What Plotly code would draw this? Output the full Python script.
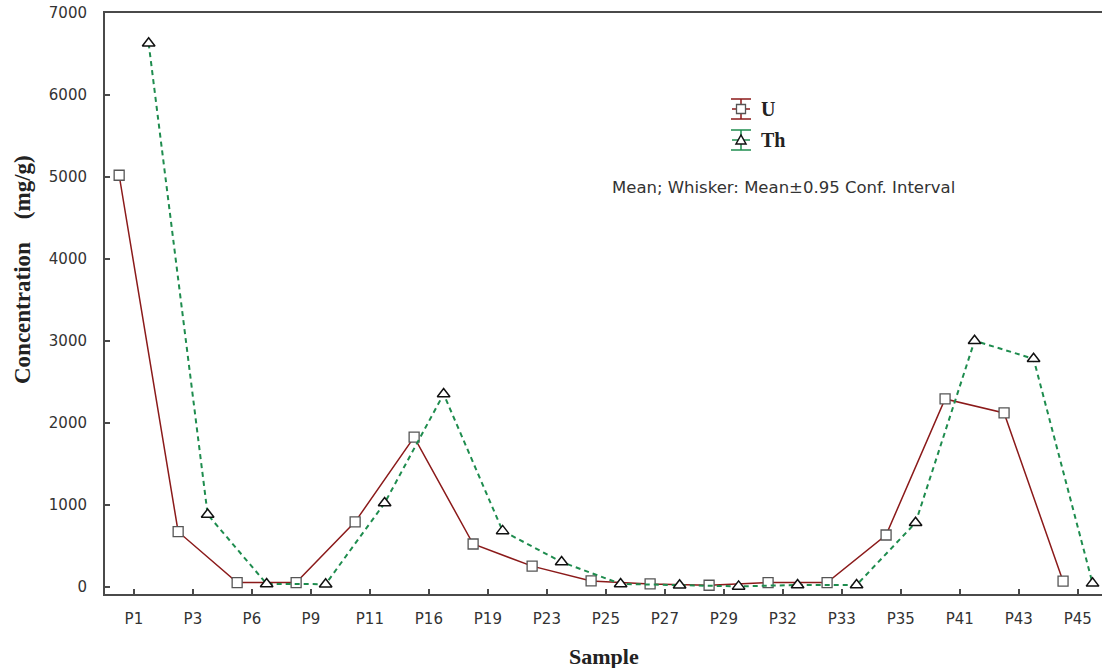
import plotly.graph_objects as go

samples = ["P1", "P3", "P6", "P9", "P11", "P16", "P19", "P23", "P25",
           "P27", "P29", "P32", "P33", "P35", "P41", "P43", "P45"]
u_mean = [5020, 670, 50, 50, 790, 1825, 520, 250, 70,
          33, 17, 50, 50, 630, 2290, 2120, 66]
th_mean = [6630, 880, 33, 30, 1020, 2350, 680, 300, 33,
           17, 3, 20, 20, 780, 3000, 2780, 40]

pos = list(range(len(samples)))
u_x = [p - 0.25 for p in pos]
th_x = [p + 0.25 for p in pos]

U_COL = "#8b1a1a"
TH_COL = "#1e8c4e"
AXIS_COL = "#4a4a4a"

fig = go.Figure()

fig.add_trace(go.Scatter(
    x=u_x, y=u_mean, mode="lines+markers", name="U",
    line=dict(color=U_COL, width=1.5),
    marker=dict(symbol="square", size=10, color="white",
                line=dict(color="#555555", width=1.3)),
))
fig.add_trace(go.Scatter(
    x=th_x, y=th_mean, mode="lines+markers", name="Th",
    line=dict(color=TH_COL, width=2, dash="5px,4px"),
    marker=dict(symbol="triangle-up", size=11, color="white",
                line=dict(color="#111111", width=1.5)),
))

# plot box sits at x 105..1102, y 13..594 in page pixels
def px_x(px):
    return (px - 105) / 997

def px_y(py):
    return (594 - py) / 581

# legend drawn by hand (icon = whisker box like the original)
def legend_icon(py, color, kind):
    common = dict(xref="paper", yref="paper", xsizemode="pixel", ysizemode="pixel",
                  xanchor=px_x(741), yanchor=px_y(py), layer="above")
    fig.add_shape(type="line", x0=-10, x1=10, y0=10, y1=10,
                  line=dict(color=color, width=1.5), **common)
    fig.add_shape(type="line", x0=-10, x1=10, y0=-10, y1=-10,
                  line=dict(color=color, width=1.5), **common)
    fig.add_shape(type="line", x0=0, x1=0, y0=-10, y1=10,
                  line=dict(color=color, width=1.5), **common)
    fig.add_shape(type="line", x0=-9, x1=9, y0=0, y1=0,
                  line=dict(color=color, width=1.5), **common)
    if kind == "square":
        fig.add_shape(type="rect", x0=-4.5, x1=4.5, y0=-4.5, y1=4.5,
                      fillcolor="white", line=dict(color="#555555", width=1.3), **common)
    else:
        fig.add_shape(type="path", path="M -5,-4 L 5,-4 L 0,5 Z",
                      fillcolor="white", line=dict(color="#111111", width=1.5), **common)

legend_icon(109, U_COL, "square")
legend_icon(140, TH_COL, "triangle")

serif_bold = dict(family="Liberation Serif", color="#222222", weight="bold")

def label(px, py, text, font, xanchor="center", angle=0):
    fig.add_annotation(x=px_x(px), y=px_y(py), xref="paper", yref="paper",
                       text=text, showarrow=False, xanchor=xanchor, yanchor="middle",
                       textangle=angle, font=font)

label(759, 109, "U", dict(size=20, **serif_bold), xanchor="left")
label(759, 140, "Th", dict(size=20, **serif_bold), xanchor="left")
label(783, 187, "Mean; Whisker: Mean±0.95 Conf. Interval",
      dict(family="DejaVu Sans", size=16.5, color="#333333"))
label(22, 270, "Concentration    (mg/g)", dict(size=23, **serif_bold), angle=-90)
label(604, 656, "Sample", dict(size=22, **serif_bold))

fig.update_layout(
    width=1102, height=668,
    margin=dict(l=105, r=0, t=13, b=74, autoexpand=False),
    plot_bgcolor="white", paper_bgcolor="white",
    showlegend=False,
    font=dict(family="DejaVu Sans", size=15, color="#333333"),
)
fig.update_xaxes(
    range=[-0.49, 16.41], tickvals=pos, ticktext=samples,
    showgrid=False, zeroline=False,
    showline=True, linecolor=AXIS_COL, linewidth=2, mirror=True,
    ticks="inside", ticklen=5, tickcolor=AXIS_COL, tickwidth=1.5,
    ticklabelstandoff=10, ticklabeloverflow="allow",
)
fig.update_yaxes(
    range=[-90, 7000], tickvals=[0, 1000, 2000, 3000, 4000, 5000, 6000, 7000],
    showgrid=False, zeroline=False,
    showline=True, linecolor=AXIS_COL, linewidth=2,
    ticks="inside", ticklen=5, tickcolor=AXIS_COL, tickwidth=1.5,
    ticklabelstandoff=13, ticklabeloverflow="allow",
)

# drop the default 8px page margin so the figure fills the window exactly
fig.write_html("out.html", config={"displayModeBar": False},
               post_script="document.body.style.margin='0';")
